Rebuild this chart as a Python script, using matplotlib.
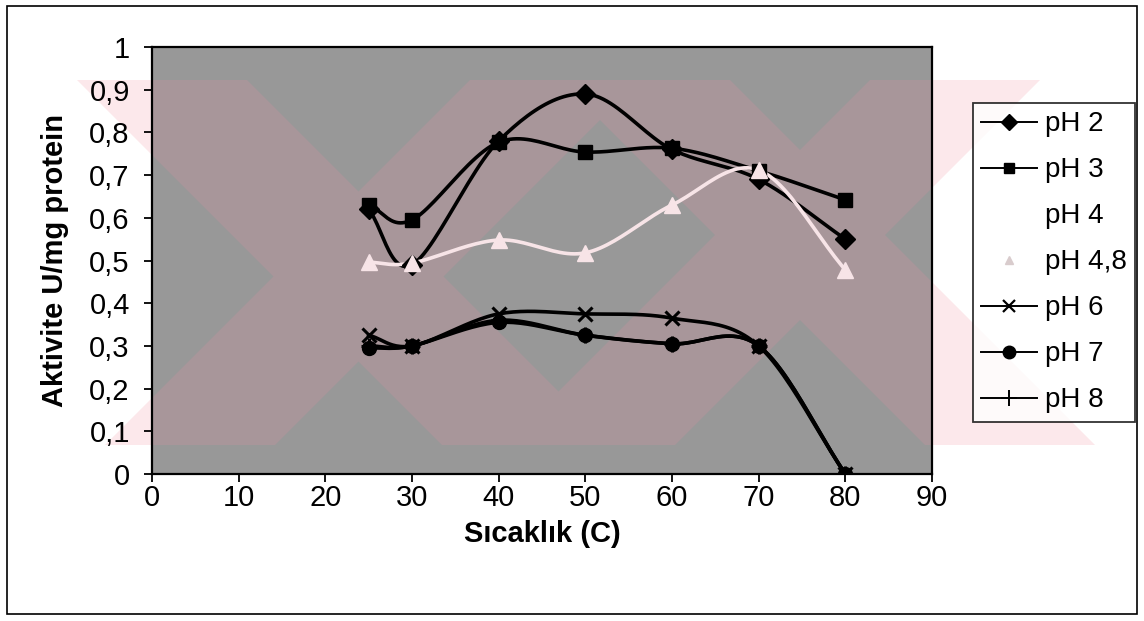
import matplotlib.pyplot as plt
import numpy as np
from matplotlib.lines import Line2D
from matplotlib.patches import Polygon, Rectangle

plt.rcParams['font.family'] = ['Liberation Sans', 'DejaVu Sans']

# temperatures (C) and activity per pH
temps = [25, 30, 40, 50, 60, 70, 80]
ph2 = [0.62, 0.49, 0.78, 0.89, 0.76, 0.69, 0.55]
ph3 = [0.63, 0.595, 0.777, 0.754, 0.763, 0.71, 0.642]
ph48 = [0.496, 0.494, 0.548, 0.518, 0.63, 0.712, 0.478]
ph6 = [0.325, 0.30, 0.375, 0.375, 0.365, 0.30, 0.00]
ph7 = [0.295, 0.30, 0.355, 0.325, 0.305, 0.30, 0.00]
ph8 = [0.30, 0.30, 0.36, 0.325, 0.305, 0.30, 0.00]
legend_labels = ['pH 2', 'pH 3', 'pH 4', 'pH 4,8', 'pH 6', 'pH 7', 'pH 8']

W, H = 1144, 621


def smooth(xs, ys, n=24):
    """Catmull-Rom curve through the points, like Excel's smoothed line."""
    xs = np.asarray(xs, float)
    ys = np.asarray(ys, float)
    px = np.concatenate([[2 * xs[0] - xs[1]], xs, [2 * xs[-1] - xs[-2]]])
    py = np.concatenate([[2 * ys[0] - ys[1]], ys, [2 * ys[-1] - ys[-2]]])
    out_x, out_y = [], []
    t = np.linspace(0, 1, n, endpoint=False)
    for i in range(1, len(px) - 2):
        for p, o in ((px, out_x), (py, out_y)):
            p0, p1, p2, p3 = p[i - 1], p[i], p[i + 1], p[i + 2]
            o.extend(0.5 * ((2 * p1) + (-p0 + p2) * t
                            + (2 * p0 - 5 * p1 + 4 * p2 - p3) * t ** 2
                            + (-p0 + 3 * p1 - 3 * p2 + p3) * t ** 3))
    out_x.append(xs[-1])
    out_y.append(ys[-1])
    return out_x, out_y


def fig_xy(pts):
    return [(x / W, 1 - y / H) for x, y in pts]


fig = plt.figure(figsize=(W / 100, H / 100), dpi=100)
fig.patch.set_facecolor('white')

# outer chart frame
fig.patches.append(Rectangle((7 / W, 1 - 614 / H), 1130 / W, 608 / H,
                             transform=fig.transFigure, fill=False,
                             edgecolor='black', lw=1.2, zorder=2))

# faint diagonal watermark bands behind the chart
top, bot, bw = 80, 445, 170
drop = bot - top
bands = []
for x0 in (77, 560):
    bands.append([(x0, top), (x0 + bw, top), (x0 + bw + drop, bot), (x0 + drop, bot)])
for x1 in (640, 1040):
    bands.append([(x1, top), (x1 - bw, top), (x1 - bw - drop, bot), (x1 - drop, bot)])
for b in bands:
    fig.patches.append(Polygon(fig_xy(b), closed=True, transform=fig.transFigure,
                               facecolor='#fce8eb', edgecolor='none', zorder=-1))

ax = fig.add_axes([152 / W, 1 - 474 / H, 780 / W, 427 / H])
ax.set_zorder(1)
ax.set_facecolor('#989898')
for b in bands:
    ax.add_patch(Polygon(fig_xy(b), closed=True, transform=fig.transFigure,
                         facecolor='#a8969a', edgecolor='none', zorder=0.5))

styles = [
    (ph2, dict(color='black', marker='D', ms=10)),
    (ph3, dict(color='black', marker='s', ms=10)),
    (ph48, dict(color='#f7e4e7', marker='^', ms=11)),
    (ph6, dict(color='black', marker='x', ms=10, mew=2.2)),
    (ph7, dict(color='black', marker='o', ms=10)),
    (ph8, dict(color='black', marker='+', ms=11, mew=2.2)),
]
for vals, st in styles:
    sx, sy = smooth(temps, vals)
    ax.plot(sx, sy, color=st['color'], lw=2.6, zorder=3)
    ax.plot(temps, vals, ls='none', zorder=4, **st)

ax.set_xlim(0, 90)
ax.set_ylim(0, 1)
ax.set_xticks(range(0, 91, 10))
ax.set_yticks(np.arange(0, 1.01, 0.1))
ax.set_yticklabels(['0', '0,1', '0,2', '0,3', '0,4', '0,5', '0,6', '0,7', '0,8', '0,9', '1'])
ax.tick_params(direction='out', length=6, width=1.3, labelsize=21)
ax.tick_params(axis='x', pad=1)
ax.tick_params(axis='y', pad=10)
for s in ax.spines.values():
    s.set_linewidth(1.6)

ax.set_xlabel('Sıcaklık (C)', fontsize=21, fontweight='bold', va='center')
ax.xaxis.set_label_coords(0.5, (474 - 534) / 427)
ax.set_ylabel('Aktivite U/mg protein', fontsize=21, fontweight='bold', va='center')
ax.yaxis.set_label_coords((55 - 152) / 780, 0.5)

# legend entries
handles = [
    Line2D([], [], color='black', marker='D', ms=8, lw=1.4),
    Line2D([], [], color='black', marker='s', ms=7, lw=1.4),
    Line2D([], [], color='white', lw=1.4),
    Line2D([], [], color='#d9cccd', marker='^', ms=6, ls='none'),
    Line2D([], [], color='black', marker='x', ms=9, mew=1.6, lw=1.4),
    Line2D([], [], color='black', marker='o', ms=9, lw=1.4),
    Line2D([], [], color='black', marker='+', ms=11, mew=1.4, lw=1.4),
]
leg = fig.legend(handles, legend_labels, loc='upper left',
                 bbox_to_anchor=(973 / W, 1 - 103 / H), borderaxespad=0,
                 fontsize=20, frameon=True, fancybox=False, edgecolor='black',
                 handlelength=2.0, handletextpad=0.3, labelspacing=0.72,
                 borderpad=0.3)
leg.get_frame().set_linewidth(1.3)

fig.savefig('out.png', dpi=100)
